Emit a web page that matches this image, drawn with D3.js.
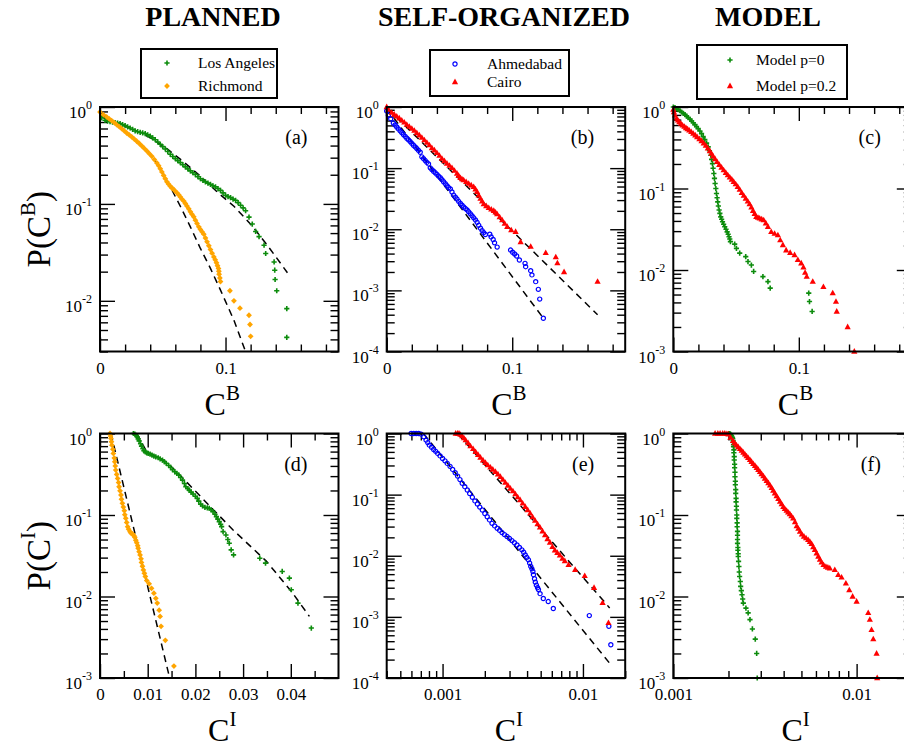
<!DOCTYPE html>
<html>
<head>
<meta charset="utf-8">
<script src="https://cdn.jsdelivr.net/npm/d3@7"></script>
<style>
body { margin: 0; background: #fff; }
text { font-family: "Liberation Serif", "Times New Roman", serif; }
</style>
</head>
<body>
<div id="canvas"></div>
<script>
// ---- data: [C, P(C)] ----
const laB = [[0.0013,0.776],[0.004,0.729],[0.006,0.715],[0.008,0.706],[0.010,0.698],[0.012,0.69],[0.014,0.682],[0.016,0.673],[0.018,0.658],[0.020,0.642],[0.022,0.625],[0.024,0.607],[0.026,0.587],[0.028,0.566],[0.030,0.556],[0.032,0.548],[0.034,0.54],[0.036,0.531],[0.038,0.516],[0.040,0.50],[0.042,0.48],[0.044,0.46],[0.046,0.436],[0.048,0.412],[0.050,0.39],[0.052,0.369],[0.054,0.347],[0.056,0.325],[0.058,0.309],[0.060,0.293],[0.062,0.28],[0.064,0.267],[0.066,0.254],[0.068,0.241],[0.070,0.23],[0.072,0.219],[0.074,0.21],[0.076,0.201],[0.078,0.191],[0.080,0.182],[0.082,0.175],[0.084,0.169],[0.086,0.164],[0.088,0.159],[0.090,0.154],[0.092,0.150],[0.094,0.144],[0.096,0.138],[0.098,0.13],[0.100,0.123],[0.102,0.119],[0.104,0.116],[0.106,0.112],[0.108,0.109],[0.110,0.103],[0.112,0.097],[0.114,0.091],[0.116,0.085],[0.1187,0.073],[0.1213,0.062],[0.124,0.052],[0.1267,0.046],[0.1307,0.0375],[0.132,0.0308],[0.1387,0.0252],[0.1392,0.0207],[0.1395,0.0166],[0.1408,0.0127],[0.1488,0.0083],[0.1488,0.0042]];
const laBFit = [[0.0013,0.789],[0.0133,0.684],[0.0267,0.584],[0.04,0.483],[0.0533,0.372],[0.0667,0.271],[0.08,0.193],[0.0933,0.133],[0.1067,0.0946],[0.12,0.0618],[0.1333,0.0375],[0.1493,0.0195]];
const richB = [[0,0.888],[0.0027,0.833],[0.0053,0.789],[0.0073,0.755],[0.0093,0.723],[0.0113,0.69],[0.0133,0.657],[0.0153,0.627],[0.0173,0.598],[0.0193,0.568],[0.0213,0.539],[0.0233,0.515],[0.0253,0.491],[0.0273,0.467],[0.0293,0.443],[0.0313,0.42],[0.0333,0.397],[0.0353,0.374],[0.0373,0.352],[0.0393,0.33],[0.0413,0.31],[0.0433,0.287],[0.0453,0.265],[0.0467,0.248],[0.048,0.231],[0.0493,0.214],[0.0507,0.197],[0.052,0.182],[0.0533,0.169],[0.0547,0.16],[0.056,0.152],[0.0573,0.146],[0.0587,0.141],[0.06,0.135],[0.0613,0.130],[0.0627,0.124],[0.064,0.118],[0.0653,0.112],[0.0667,0.107],[0.068,0.101],[0.0693,0.095],[0.0707,0.089],[0.072,0.083],[0.0733,0.078],[0.0747,0.0735],[0.076,0.068],[0.0773,0.0629],[0.0787,0.058],[0.08,0.0546],[0.0813,0.0515],[0.0827,0.0487],[0.084,0.0445],[0.0853,0.0406],[0.0867,0.037],[0.088,0.0338],[0.0893,0.031],[0.0907,0.0284],[0.0918,0.0265],[0.0928,0.0247],[0.0936,0.023],[0.0944,0.0216],[0.0947,0.0202],[0.0949,0.0188],[0.0955,0.0172],[0.096,0.0158],[0.1035,0.0127],[0.1067,0.0100],[0.1115,0.0084],[0.1187,0.0071],[0.1195,0.0057],[0.12,0.0043]];
const richBFit = [[0,0.888],[0.0267,0.483],[0.04,0.33],[0.048,0.231],[0.056,0.15],[0.064,0.0946],[0.072,0.0579],[0.08,0.0347],[0.088,0.0216],[0.096,0.0129],[0.1067,0.0063],[0.116,0.00298]];

const ahmB = [[0,0.86],[0.0013,0.731],[0.0032,0.645],[0.0053,0.548],[0.0067,0.508],[0.008,0.471],[0.0093,0.438],[0.0107,0.406],[0.012,0.38],[0.0133,0.354],[0.0147,0.33],[0.016,0.308],[0.0173,0.29],[0.0187,0.272],[0.020,0.254],[0.0213,0.237],[0.0227,0.222],[0.024,0.209],[0.0253,0.195],[0.0267,0.182],[0.028,0.153],[0.0293,0.143],[0.0307,0.133],[0.032,0.124],[0.0333,0.117],[0.0347,0.101],[0.036,0.0946],[0.0373,0.0888],[0.0387,0.0838],[0.040,0.0789],[0.0413,0.0739],[0.0427,0.0695],[0.044,0.0647],[0.0453,0.0598],[0.0467,0.0556],[0.048,0.0515],[0.0493,0.0481],[0.0507,0.0457],[0.052,0.0407],[0.0533,0.0362],[0.0547,0.0336],[0.056,0.0312],[0.0573,0.0286],[0.0587,0.0264],[0.060,0.0247],[0.0613,0.0231],[0.0627,0.0218],[0.064,0.0207],[0.0653,0.0193],[0.0667,0.0179],[0.068,0.0166],[0.0693,0.0154],[0.0707,0.0142],[0.072,0.013],[0.0733,0.0116],[0.0747,0.0104],[0.076,0.0095],[0.0773,0.0088],[0.0786,0.0082],[0.0821,0.0083],[0.0832,0.0075],[0.0848,0.0068],[0.0859,0.006],[0.088,0.0051],[0.0987,0.00457],[0.1003,0.0042],[0.1019,0.00394],[0.1035,0.00365],[0.1057,0.00314],[0.1102,0.00277],[0.1107,0.00244],[0.1147,0.0021],[0.1157,0.00179],[0.1187,0.00139],[0.1208,0.00104],[0.1219,0.00072],[0.1248,0.00035]];
const ahmBFit = [[0,0.95],[0.1248,0.00035]];
const cairoB = [[0,1],[0.0013,0.905],[0.004,0.808],[0.006,0.755],[0.008,0.704],[0.010,0.655],[0.012,0.606],[0.014,0.56],[0.016,0.515],[0.018,0.478],[0.020,0.443],[0.022,0.41],[0.024,0.376],[0.026,0.345],[0.028,0.316],[0.030,0.288],[0.032,0.262],[0.034,0.238],[0.036,0.214],[0.038,0.196],[0.040,0.178],[0.042,0.16],[0.044,0.143],[0.046,0.131],[0.048,0.119],[0.050,0.11],[0.052,0.101],[0.054,0.091],[0.056,0.0817],[0.0573,0.075],[0.0587,0.0694],[0.060,0.066],[0.0613,0.0636],[0.0633,0.0595],[0.0653,0.0559],[0.0673,0.0525],[0.0693,0.0494],[0.0707,0.0452],[0.072,0.041],[0.0733,0.036],[0.0747,0.0318],[0.076,0.0287],[0.0773,0.0258],[0.0793,0.024],[0.0813,0.0224],[0.0833,0.0212],[0.0853,0.0201],[0.0867,0.0189],[0.088,0.0177],[0.090,0.0158],[0.092,0.0141],[0.094,0.0124],[0.096,0.0110],[0.0992,0.0097],[0.1027,0.0091],[0.1067,0.0062],[0.1147,0.0052],[0.1267,0.0041],[0.1347,0.0035],[0.136,0.0028],[0.1413,0.0020],[0.168,0.00139]];
const cairoBFit = [[0.001,0.93],[0.168,0.0004]];

const m0B = [[0,1],[0.0013,0.981],[0.0027,0.955],[0.004,0.928],[0.0053,0.9],[0.0066,0.868],[0.008,0.836],[0.0093,0.806],[0.0106,0.772],[0.0119,0.74],[0.0133,0.706],[0.0146,0.674],[0.0159,0.64],[0.0172,0.608],[0.0185,0.575],[0.0198,0.543],[0.0212,0.507],[0.0225,0.471],[0.0238,0.433],[0.0251,0.398],[0.0265,0.36],[0.0278,0.324],[0.0288,0.29],[0.0299,0.256],[0.0305,0.228],[0.0312,0.202],[0.0317,0.177],[0.0323,0.153],[0.0328,0.133],[0.0333,0.115],[0.0339,0.1],[0.0344,0.087],[0.0349,0.077],[0.0354,0.0686],[0.0359,0.061],[0.0365,0.0545],[0.0371,0.0495],[0.0378,0.0449],[0.0385,0.042],[0.0392,0.0391],[0.0401,0.0364],[0.041,0.0339],[0.042,0.0316],[0.0429,0.0294],[0.0437,0.0274],[0.0444,0.0256],[0.045,0.024],[0.0455,0.0223],[0.0489,0.0208],[0.0503,0.0184],[0.0529,0.0161],[0.0577,0.0146],[0.0595,0.0127],[0.0622,0.0115],[0.064,0.0096],[0.0714,0.0083],[0.0754,0.0072],[0.0772,0.006],[0.1079,0.0052],[0.1085,0.0041],[0.1106,0.0031]];
const m2B = [[0,0.928],[0.0005,0.868],[0.0013,0.79],[0.0026,0.72],[0.0037,0.686],[0.0048,0.655],[0.0061,0.625],[0.0074,0.596],[0.0088,0.574],[0.0101,0.553],[0.0114,0.535],[0.0127,0.518],[0.0143,0.495],[0.0159,0.472],[0.0175,0.45],[0.019,0.429],[0.0208,0.405],[0.0225,0.383],[0.0242,0.359],[0.0259,0.336],[0.0275,0.312],[0.0291,0.289],[0.0304,0.268],[0.0317,0.249],[0.0333,0.23],[0.0349,0.212],[0.0366,0.196],[0.0384,0.181],[0.0401,0.168],[0.0418,0.156],[0.0434,0.146],[0.045,0.137],[0.0466,0.129],[0.0481,0.121],[0.0497,0.113],[0.0513,0.105],[0.0529,0.097],[0.0545,0.0886],[0.0561,0.0817],[0.0577,0.0754],[0.0593,0.0697],[0.0608,0.0644],[0.0622,0.0586],[0.0635,0.0534],[0.0648,0.049],[0.0661,0.045],[0.0675,0.044],[0.0688,0.043],[0.0704,0.042],[0.072,0.041],[0.0737,0.0375],[0.0754,0.034],[0.078,0.0294],[0.0807,0.028],[0.0833,0.0268],[0.0852,0.0233],[0.0873,0.0203],[0.0899,0.0175],[0.0931,0.0163],[0.0966,0.0153],[0.0992,0.0133],[0.1019,0.0121],[0.1037,0.0108],[0.105,0.0093],[0.1063,0.0083],[0.1111,0.0072],[0.1196,0.0062],[0.127,0.0052],[0.1296,0.0041],[0.1302,0.0031],[0.1389,0.002],[0.1442,0.001]];

const laI = [[0.007,1],[0.0073,0.981],[0.0076,0.95],[0.0078,0.91],[0.008,0.86],[0.0082,0.813],[0.0085,0.75],[0.0087,0.70],[0.009,0.65],[0.0092,0.613],[0.0095,0.595],[0.0098,0.58],[0.0101,0.57],[0.0105,0.558],[0.0109,0.543],[0.0113,0.528],[0.0117,0.516],[0.0122,0.504],[0.0126,0.488],[0.0131,0.471],[0.0135,0.45],[0.0139,0.43],[0.0144,0.405],[0.0148,0.383],[0.0152,0.36],[0.0157,0.339],[0.0161,0.324],[0.0165,0.309],[0.0169,0.288],[0.0173,0.268],[0.0177,0.244],[0.018,0.222],[0.0184,0.211],[0.0187,0.202],[0.0191,0.191],[0.0195,0.181],[0.02,0.17],[0.0204,0.16],[0.0207,0.148],[0.0211,0.136],[0.0215,0.129],[0.022,0.124],[0.0225,0.122],[0.0229,0.121],[0.0233,0.116],[0.0237,0.11],[0.0241,0.102],[0.0244,0.0954],[0.0247,0.089],[0.025,0.083],[0.0253,0.077],[0.0255,0.072],[0.0258,0.0625],[0.0264,0.0569],[0.0268,0.05],[0.0271,0.045],[0.0275,0.0373],[0.028,0.0324],[0.0335,0.0295],[0.0347,0.0257],[0.0382,0.0203],[0.0397,0.0168],[0.0401,0.0121],[0.0415,0.0083],[0.0443,0.0041]];
const laIFit = [[0.0077,1],[0.0098,0.596],[0.0139,0.45],[0.0181,0.256],[0.0237,0.117],[0.0279,0.0656],[0.0349,0.027],[0.0404,0.011],[0.0439,0.0057]];
const richI = [[0.0021,1],[0.0022,0.93],[0.0023,0.869],[0.0024,0.79],[0.0025,0.72],[0.0027,0.64],[0.0028,0.569],[0.003,0.5],[0.0031,0.45],[0.0032,0.4],[0.0033,0.356],[0.0035,0.315],[0.0037,0.281],[0.0039,0.25],[0.004,0.222],[0.0042,0.198],[0.0044,0.176],[0.0045,0.156],[0.0047,0.139],[0.0049,0.125],[0.0051,0.113],[0.0052,0.101],[0.0054,0.0911],[0.0056,0.081],[0.0058,0.072],[0.006,0.067],[0.0063,0.0625],[0.0065,0.06],[0.0068,0.0585],[0.0071,0.056],[0.0073,0.0533],[0.0075,0.049],[0.0077,0.0458],[0.0079,0.042],[0.008,0.0391],[0.0082,0.0355],[0.0084,0.0324],[0.0086,0.029],[0.0087,0.0262],[0.0089,0.0235],[0.0091,0.0212],[0.0093,0.0193],[0.0095,0.0176],[0.0098,0.0157],[0.0103,0.0143],[0.0108,0.0126],[0.0113,0.011],[0.0117,0.0095],[0.012,0.0083],[0.0124,0.0068],[0.0126,0.0057],[0.0128,0.0043],[0.0137,0.0029],[0.0155,0.0014]];
const richIFit = [[0.0023,1],[0.0146,0.001]];

const ahmI = [[0.000597,1],[0.000623,1],[0.000649,1],[0.000676,1],[0.000703,0.975],[0.000735,0.882],[0.000763,0.778],[0.000784,0.71],[0.000805,0.645],[0.000835,0.595],[0.000864,0.548],[0.000893,0.51],[0.000923,0.472],[0.00096,0.43],[0.001,0.39],[0.00104,0.357],[0.00108,0.324],[0.00113,0.29],[0.00118,0.258],[0.00123,0.228],[0.00128,0.201],[0.00133,0.176],[0.00138,0.153],[0.00144,0.135],[0.0015,0.119],[0.00156,0.104],[0.00163,0.0903],[0.0017,0.079],[0.00177,0.0702],[0.00184,0.0625],[0.00192,0.0559],[0.002,0.049],[0.00208,0.0435],[0.00216,0.0385],[0.00225,0.0339],[0.00235,0.0308],[0.00245,0.0281],[0.00255,0.026],[0.00265,0.0239],[0.00276,0.0222],[0.00288,0.0206],[0.003,0.0191],[0.00312,0.0177],[0.00325,0.0163],[0.00339,0.015],[0.00353,0.0137],[0.00367,0.0125],[0.00378,0.0114],[0.00388,0.0103],[0.00398,0.0094],[0.00409,0.00858],[0.00417,0.0076],[0.00425,0.00668],[0.00433,0.0061],[0.0044,0.00553],[0.00444,0.0049],[0.00452,0.0042],[0.00458,0.0037],[0.00466,0.0033],[0.00475,0.003],[0.00482,0.0028],[0.00495,0.0024],[0.00522,0.002],[0.00566,0.00178],[0.00615,0.00137],[0.0111,0.00105],[0.0153,0.0007],[0.0158,0.00035]];
const ahmIFit = [[0.00073,1],[0.0158,0.000165]];
const cairoI = [[0.00124,1],[0.00128,1],[0.00131,1],[0.00134,0.96],[0.00138,0.905],[0.00142,0.84],[0.00146,0.778],[0.00152,0.7],[0.00158,0.621],[0.00165,0.56],[0.00172,0.502],[0.00179,0.45],[0.00186,0.406],[0.00194,0.366],[0.00202,0.332],[0.0021,0.304],[0.00219,0.279],[0.00228,0.258],[0.00238,0.237],[0.00248,0.216],[0.00258,0.196],[0.00269,0.176],[0.0028,0.157],[0.00292,0.141],[0.00304,0.126],[0.00317,0.114],[0.0033,0.102],[0.00343,0.091],[0.00357,0.0816],[0.00372,0.072],[0.00388,0.0635],[0.00404,0.056],[0.00421,0.0494],[0.00438,0.043],[0.00456,0.0376],[0.00475,0.033],[0.00494,0.0292],[0.00515,0.0252],[0.00537,0.0219],[0.00559,0.0188],[0.00582,0.0165],[0.00606,0.014],[0.00631,0.0123],[0.00657,0.0112],[0.00685,0.0102],[0.00714,0.009],[0.00743,0.0082],[0.0079,0.0071],[0.0088,0.0059],[0.0103,0.0047],[0.012,0.0030],[0.0138,0.0017],[0.0152,0.0008]];
const cairoIFit = [[0.00128,1],[0.0155,0.0014]];

const m0I = [[0.0020,1],[0.00203,1],[0.00205,0.981],[0.00207,0.95],[0.00208,0.93],[0.0021,0.9],[0.00211,0.869],[0.00212,0.82],[0.00212,0.78],[0.00213,0.73],[0.00213,0.687],[0.00214,0.63],[0.00214,0.58],[0.00215,0.52],[0.00215,0.472],[0.00216,0.42],[0.00216,0.38],[0.00217,0.335],[0.00217,0.295],[0.00218,0.26],[0.00218,0.235],[0.00219,0.205],[0.00219,0.184],[0.0022,0.16],[0.0022,0.145],[0.00221,0.128],[0.00221,0.115],[0.00222,0.1],[0.00222,0.091],[0.00223,0.08],[0.00223,0.0719],[0.00224,0.063],[0.00224,0.0565],[0.00224,0.05],[0.00224,0.0449],[0.00225,0.04],[0.00225,0.037],[0.00226,0.0335],[0.00226,0.0309],[0.00227,0.027],[0.00228,0.0233],[0.00229,0.02],[0.0023,0.0176],[0.00232,0.0153],[0.00233,0.0133],[0.00235,0.0118],[0.00237,0.0105],[0.00239,0.0093],[0.00241,0.0083],[0.00249,0.0072],[0.00256,0.0063],[0.00262,0.0052],[0.0027,0.004],[0.0028,0.003],[0.00285,0.002],[0.00287,0.001]];
const m2I = [[0.00169,1],[0.00175,1],[0.0018,1],[0.00186,1],[0.00191,1],[0.00196,0.99],[0.002,0.981],[0.00205,0.893],[0.00212,0.813],[0.00216,0.765],[0.00221,0.72],[0.00226,0.683],[0.00231,0.649],[0.00236,0.616],[0.00241,0.585],[0.00246,0.556],[0.00251,0.528],[0.00256,0.502],[0.00262,0.476],[0.00267,0.45],[0.00273,0.425],[0.00279,0.402],[0.00285,0.38],[0.00291,0.359],[0.00297,0.339],[0.00303,0.319],[0.0031,0.3],[0.00316,0.281],[0.00323,0.263],[0.0033,0.247],[0.00337,0.231],[0.00344,0.215],[0.00351,0.199],[0.00358,0.185],[0.00366,0.171],[0.00374,0.158],[0.00382,0.146],[0.0039,0.136],[0.00398,0.126],[0.00406,0.119],[0.00415,0.113],[0.00423,0.108],[0.00432,0.103],[0.00441,0.097],[0.00451,0.0909],[0.00461,0.082],[0.00471,0.0732],[0.00481,0.068],[0.00491,0.0627],[0.00503,0.058],[0.00516,0.0545],[0.0053,0.052],[0.00544,0.0496],[0.00556,0.047],[0.00568,0.0443],[0.0058,0.0405],[0.00592,0.0374],[0.00605,0.034],[0.00618,0.031],[0.00631,0.0285],[0.00644,0.0262],[0.0066,0.0245],[0.0068,0.0233],[0.00697,0.0227],[0.00714,0.0222],[0.0076,0.0212],[0.00794,0.0184],[0.00828,0.0172],[0.00874,0.0145],[0.00912,0.012],[0.00951,0.01],[0.01,0.0087],[0.01157,0.0063],[0.01181,0.0052],[0.01206,0.0039],[0.01233,0.003],[0.01285,0.002],[0.01295,0.001]];

// ---- ticks and labels ----
const titles = ["PLANNED", "SELF-ORGANIZED", "MODEL"];
const legendNames = [["Los Angeles", "Richmond"], ["Ahmedabad", "Cairo"], ["Model p=0", "Model p=0.2"]];
const panelTags = ["(a)", "(b)", "(c)", "(d)", "(e)", "(f)"];
const xMajorB = [0, 0.1];
const xMinorB = [0.02, 0.04, 0.06, 0.08, 0.12, 0.14, 0.16, 0.18];
const xMajorD = [0, 0.01, 0.02, 0.03, 0.04];
const xMinorD = [0.005, 0.015, 0.025, 0.035, 0.045];
const xMajorLog = [0.001, 0.01];
const yMajor2 = [1, 0.1, 0.01];
const yMajor3 = [1, 0.1, 0.01, 0.001];
const yMajor4 = [1, 0.1, 0.01, 0.001, 0.0001];

const green = "#0c8c0c", orange = "#ffa500", blue = "#0000ff", red = "#ff0000";

const width = 904;
const height = 749;
const colX = [100, 386.7, 673.3];
const rowY = [107, 433.5];
const pw = 238.5, ph = 244.5;

const svg = d3.select("#canvas").append("svg")
  .attr("width", width)
  .attr("height", height);

const panels = [
  { col: 0, row: 0, xLog: false, xDom: [0, 0.19], yDom: [0.003, 1], xMajor: xMajorB, xMinor: xMinorB, yMajor: yMajor2, sup: "B",
    series: [{ data: laB, shape: "plus", color: green }, { data: richB, shape: "diamond", color: orange }], fits: [laBFit, richBFit] },
  { col: 1, row: 0, xLog: false, xDom: [0, 0.19], yDom: [0.0001, 1], xMajor: xMajorB, xMinor: xMinorB, yMajor: yMajor4, sup: "B",
    series: [{ data: ahmB, shape: "circle", color: blue }, { data: cairoB, shape: "triangle", color: red }], fits: [ahmBFit, cairoBFit] },
  { col: 2, row: 0, xLog: false, xDom: [0, 0.19], yDom: [0.001, 1], xMajor: xMajorB, xMinor: xMinorB, yMajor: yMajor3, sup: "B",
    series: [{ data: m0B, shape: "plus", color: green }, { data: m2B, shape: "triangle", color: red }], fits: [] },
  { col: 0, row: 1, xLog: false, xDom: [0, 0.05], yDom: [0.001, 1], xMajor: xMajorD, xMinor: xMinorD, yMajor: yMajor3, sup: "I",
    series: [{ data: laI, shape: "plus", color: green }, { data: richI, shape: "diamond", color: orange }], fits: [laIFit, richIFit] },
  { col: 1, row: 1, xLog: true, xDom: [0.0004, 0.02], yDom: [0.0001, 1], xMajor: xMajorLog, yMajor: yMajor4, sup: "I",
    series: [{ data: ahmI, shape: "circle", color: blue }, { data: cairoI, shape: "triangle", color: red }], fits: [ahmIFit, cairoIFit] },
  { col: 2, row: 1, xLog: true, xDom: [0.001, 0.02], yDom: [0.001, 1], xMajor: xMajorLog, yMajor: yMajor3, sup: "I",
    series: [{ data: m0I, shape: "plus", color: green }, { data: m2I, shape: "triangle", color: red }], fits: [] }
];

function marker(sel, shape, color) {
  if (shape === "plus") {
    sel.append("path").attr("d", "M-2.6,0H2.6M0,-2.6V2.6")
      .attr("stroke", color).attr("stroke-width", 1.6).attr("fill", "none");
  } else if (shape === "diamond") {
    sel.append("path").attr("d", "M0,-2.9L2.9,0L0,2.9L-2.9,0Z").attr("fill", color);
  } else if (shape === "circle") {
    sel.append("circle").attr("r", 2.1).attr("fill", "none")
      .attr("stroke", color).attr("stroke-width", 1.2);
  } else {
    sel.append("path").attr("d", "M0,-3.4L3.1,2.2L-3.1,2.2Z").attr("fill", color);
  }
}

const serif = '"Liberation Serif", "Times New Roman", serif';

panels.forEach((p, i) => {
  const g = svg.append("g").attr("transform", `translate(${colX[p.col]},${rowY[p.row]})`);
  const x = (p.xLog ? d3.scaleLog() : d3.scaleLinear()).domain(p.xDom).range([0, pw]);
  const y = d3.scaleLog().domain(p.yDom).range([ph, 0]);

  const xMinor = p.xLog ? x.ticks().filter(v => !p.xMajor.includes(v)) : p.xMinor;
  const yMinor = y.ticks().filter(v => !p.yMajor.some(m => Math.abs(m - v) < m * 1e-6));

  const styleAxis = a => {
    a.select(".domain").remove();
    a.selectAll("line").attr("stroke", "#000").attr("stroke-width", 1.4);
    a.attr("font-family", serif).attr("font-size", 17);
    a.selectAll("text").attr("fill", "#000");
  };

  // x axes, bottom with labels, top mirrored
  g.append("g").attr("transform", `translate(0,${ph})`)
    .call(d3.axisBottom(x).tickValues(p.xMajor).tickSize(-14).tickSizeOuter(0).tickPadding(10).tickFormat(d => String(d)))
    .call(styleAxis);
  g.append("g").attr("transform", `translate(0,${ph})`)
    .call(d3.axisBottom(x).tickValues(xMinor).tickSize(-7).tickSizeOuter(0).tickFormat(""))
    .call(styleAxis);
  g.append("g")
    .call(d3.axisTop(x).tickValues(p.xMajor).tickSize(-14).tickSizeOuter(0).tickFormat(""))
    .call(styleAxis);
  g.append("g")
    .call(d3.axisTop(x).tickValues(xMinor).tickSize(-7).tickSizeOuter(0).tickFormat(""))
    .call(styleAxis);

  // y axes, left and right
  g.append("g").call(d3.axisLeft(y).tickValues(p.yMajor).tickSize(-15).tickSizeOuter(0).tickFormat("")).call(styleAxis);
  g.append("g").call(d3.axisLeft(y).tickValues(yMinor).tickSize(-8).tickSizeOuter(0).tickFormat("")).call(styleAxis);
  g.append("g").attr("transform", `translate(${pw},0)`)
    .call(d3.axisRight(y).tickValues(p.yMajor).tickSize(-15).tickSizeOuter(0).tickFormat("")).call(styleAxis);
  g.append("g").attr("transform", `translate(${pw},0)`)
    .call(d3.axisRight(y).tickValues(yMinor).tickSize(-8).tickSizeOuter(0).tickFormat("")).call(styleAxis);

  // y tick labels as powers of ten
  g.selectAll(".ylab").data(p.yMajor).join("text")
    .attr("class", "ylab")
    .attr("x", -8)
    .attr("y", d => y(d) + 11)
    .attr("text-anchor", "end")
    .attr("font-size", 17)
    .each(function (d) {
      const t = d3.select(this);
      t.append("tspan").text("10");
      t.append("tspan").attr("dy", -9).attr("font-size", 12).text(Math.round(Math.log10(d)));
    });

  // fitted dashed lines
  const line = d3.line().x(d => x(d[0])).y(d => y(d[1]));
  g.selectAll(".fit").data(p.fits).join("path")
    .attr("class", "fit")
    .attr("d", line)
    .attr("fill", "none")
    .attr("stroke", "#000")
    .attr("stroke-width", 1.5)
    .attr("stroke-dasharray", "7,5");

  // data points
  p.series.forEach(s => {
    g.append("g").selectAll("g").data(s.data).join("g")
      .attr("transform", d => `translate(${x(d[0])},${y(d[1])})`)
      .each(function () { marker(d3.select(this), s.shape, s.color); });
  });

  // frame
  g.append("rect").attr("width", pw).attr("height", ph)
    .attr("fill", "none").attr("stroke", "#000").attr("stroke-width", 2);

  // panel tag
  g.append("text").attr("x", pw - 31).attr("y", 37)
    .attr("text-anchor", "end").attr("font-size", 20).text(panelTags[i]);

  // x title
  const xt = g.append("text").attr("x", pw / 2 + 3).attr("y", ph + 63)
    .attr("text-anchor", "middle").attr("font-size", 32);
  xt.append("tspan").text("C");
  xt.append("tspan").attr("dy", -15).attr("font-size", 21).text(p.sup);

  // y title only on the first column
  if (p.col === 0) {
    const yt = svg.append("text")
      .attr("transform", `translate(50,${rowY[p.row] + ph / 2}) rotate(-90)`)
      .attr("text-anchor", "middle").attr("font-size", 33);
    yt.append("tspan").text("P(C");
    yt.append("tspan").attr("dy", -15).attr("font-size", 21).text(p.sup);
    yt.append("tspan").attr("dy", 15).text(")");
  }
});

// column titles
const titleX = [213, 504, 768];
svg.selectAll(".title").data(titles).join("text")
  .attr("class", "title")
  .attr("x", (d, i) => titleX[i])
  .attr("y", 26)
  .attr("text-anchor", "middle")
  .attr("font-size", 28)
  .attr("font-weight", "bold")
  .text(d => d);

// legends
const legendBoxes = [
  { x: 141, y: 49, w: 136, h: 49, mx: 167, tx: 198, rows: [63, 86], shapes: ["plus", "diamond"], colors: [green, orange] },
  { x: 430, y: 50, w: 139, h: 46, mx: 455, tx: 487, rows: [64, 82], shapes: ["circle", "triangle"], colors: [blue, red] },
  { x: 697, y: 45, w: 150, h: 54, mx: 730, tx: 756, rows: [60, 86], shapes: ["plus", "triangle"], colors: [green, red] }
];
legendBoxes.forEach((b, i) => {
  const lg = svg.append("g");
  lg.append("rect").attr("x", b.x).attr("y", b.y).attr("width", b.w).attr("height", b.h)
    .attr("fill", "#fff").attr("stroke", "#000").attr("stroke-width", 2);
  legendNames[i].forEach((name, k) => {
    const m = lg.append("g").attr("transform", `translate(${b.mx},${b.rows[k]})`);
    marker(m, b.shapes[k], b.colors[k]);
    lg.append("text").attr("x", b.tx).attr("y", b.rows[k] + 5)
      .attr("font-size", 15.5).text(name);
  });
});
</script>
</body>
</html>
